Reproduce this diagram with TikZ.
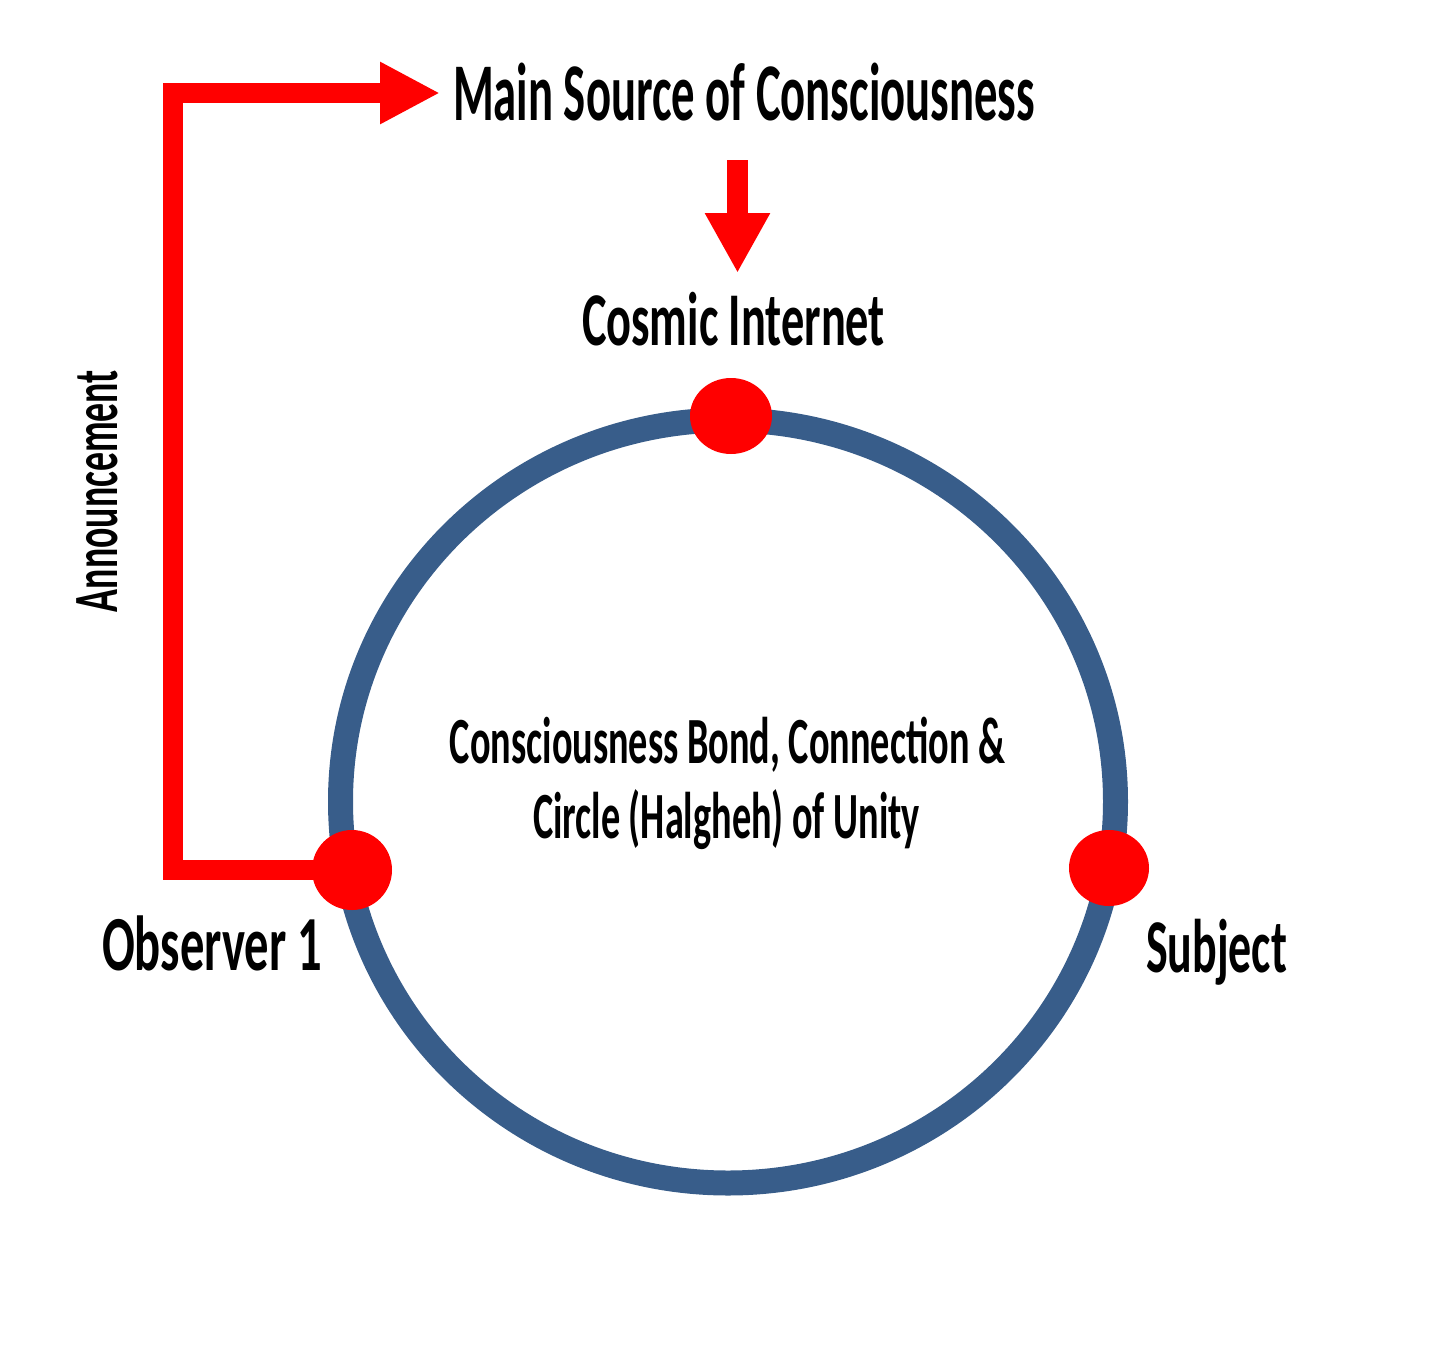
\documentclass[tikz,border=0pt]{standalone}
\usepackage{fontspec}
\setmainfont{Carlito}
\usepackage{graphicx}
\usetikzlibrary{arrows.meta,shapes.geometric}
\pgfdeclarelayer{backlayer}
\pgfsetlayers{backlayer,main}
\definecolor{ringblue}{RGB}{56,93,138}
\definecolor{dotred}{RGB}{255,0,0}
\newcommand{\fw}[2]{\resizebox{#1}{\height}{#2}}
\tikzset{
  lbl/.style={inner sep=0pt, anchor=base, font=\bfseries},
  dotnode/.style={shape=ellipse, fill=dotred, draw=none, inner sep=0pt},
  redarrow/.style={draw=dotred, line join=miter},
}
\begin{document}
\begin{tikzpicture}[x=1pt,y=-1pt]
\useasboundingbox (0,0) rectangle (1454,1358);
% labels
\node[lbl] (main) at (744,120) {\fontsize{82}{90}\selectfont\fw{582pt}{Main Source of Consciousness}};
\node[lbl] (cosmic) at (733.5,345) {\fontsize{76}{84}\selectfont\fw{303pt}{Cosmic Internet}};
\node[lbl] (obs) at (212,970) {\fontsize{78}{86}\selectfont\fw{220pt}{Observer 1}};
\node[lbl] (subj) at (1216.5,972) {\fontsize{76}{84}\selectfont\fw{141pt}{Subject}};
\node[lbl] (bond1) at (727.5,763) {\fontsize{66}{74}\selectfont\fw{555pt}{Consciousness Bond, Connection \&}};
\node[lbl] (bond2) at (726.5,838) {\fontsize{66}{74}\selectfont\fw{387pt}{Circle (Halgheh) of Unity}};
\node[lbl, rotate=90] (ann) at (117,491) {\fontsize{63}{70}\selectfont\fw{242pt}{Announcement}};
% dots
\node[dotnode, minimum width=80pt, minimum height=80pt] (dotL) at (352,870) {};
\node[dotnode, minimum width=82pt, minimum height=76pt] (dotT) at (731,416) {};
\node[dotnode, minimum width=80pt, minimum height=76pt] (dotR) at (1109,868) {};
% connector coordinates
\coordinate (corner) at (173,93);
\coordinate (tipA) at (440,93);
\coordinate (downS) at (737.5,160);
\coordinate (downE) at (737.5,273);
\begin{pgfonlayer}{backlayer}
% ring
\draw[ringblue, line width=25pt] (728,801.5) ellipse [x radius=387.5pt, y radius=381.5pt];
% announcement arrow
\draw[redarrow, line width=20pt, -{Triangle[length=60pt,width=58pt]}]
  (dotL.center) -| (corner) -- (tipA);
\end{pgfonlayer}
% down arrow
\draw[redarrow, line width=21pt, -{Triangle[length=60pt,width=61pt]}] (downS) -- (downE);
\end{tikzpicture}
\end{document}
